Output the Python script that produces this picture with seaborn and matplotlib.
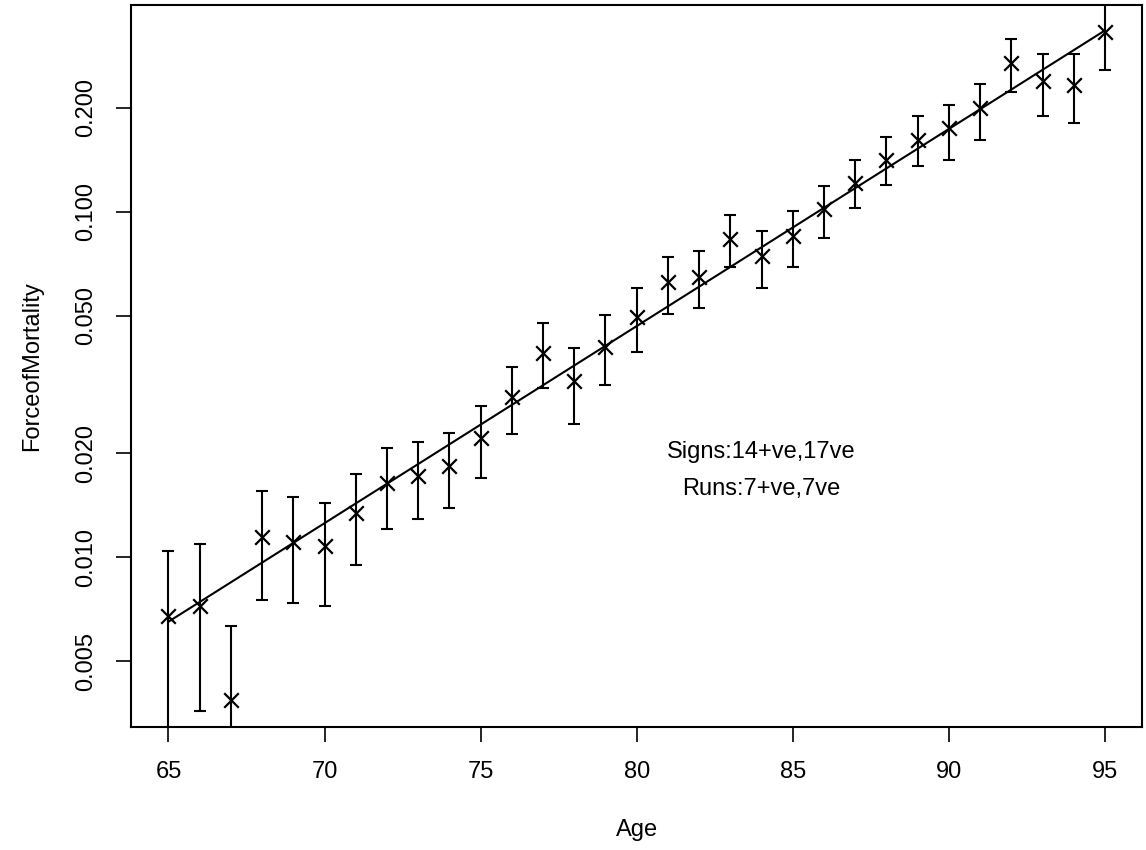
import numpy as np
import pandas as pd
import seaborn as sns
from matplotlib import pyplot as plt

ages = list(range(65, 96))
mu = [0.00676, 0.00721, 0.00385, 0.01145, 0.01103, 0.01076, 0.01340, 0.01642,
      0.01721, 0.01836, 0.02218, 0.02903, 0.0391, 0.0324, 0.0407, 0.0497,
      0.0624, 0.0647, 0.0833, 0.0742, 0.0852, 0.1020, 0.1208, 0.1408,
      0.1617, 0.1748, 0.1998, 0.270, 0.2386, 0.2335, 0.332]
lower = [0.0025, 0.00358, 0.0012, 0.0075, 0.00738, 0.00721, 0.00948, 0.01203,
         0.01288, 0.01384, 0.0169, 0.02268, 0.0308, 0.0243, 0.0315, 0.0392,
         0.0505, 0.0528, 0.0694, 0.0603, 0.0694, 0.0839, 0.1025, 0.1192,
         0.1353, 0.1408, 0.1617, 0.2218, 0.189, 0.1811, 0.258]
upper = [0.01043, 0.01091, 0.00632, 0.0155, 0.0149, 0.01437, 0.01737, 0.02074,
         0.0215, 0.0229, 0.0274, 0.03562, 0.04757, 0.0403, 0.0501, 0.0601,
         0.0739, 0.0771, 0.0976, 0.0881, 0.1007, 0.119, 0.1415, 0.1642,
         0.189, 0.2042, 0.235, 0.3166, 0.2864, 0.2864, 0.42]

# fitted (gompertz) line, straight on the log scale
fit_ages = [65, 95]
fit_mu = [0.0065, 0.335]

yticks = [0.005, 0.01, 0.02, 0.05, 0.1, 0.2]
ytick_labels = ["0.005", "0.010", "0.020", "0.050", "0.100", "0.200"]
xticks = [65, 70, 75, 80, 85, 90, 95]
notes = ["Signs:14+ve,17ve", "Runs:7+ve,7ve"]
note_pos = [(84, 0.0201), (84, 0.0157)]

df = pd.DataFrame({'Age': ages, 'mu': mu, 'lo': lower, 'hi': upper})
fit = pd.DataFrame({'Age': fit_ages, 'mu': fit_mu})

sns.set_style("white")
plt.rcParams['font.family'] = ['Liberation Sans', 'DejaVu Sans']
plt.rcParams['text.color'] = 'black'
plt.rcParams['axes.labelcolor'] = 'black'
plt.rcParams['xtick.color'] = 'black'
plt.rcParams['ytick.color'] = 'black'
fs = 17

fig = plt.figure(figsize=(11.46, 8.5), dpi=100)
ax = fig.add_axes([0.1143, 0.1447, 0.8826, 0.8494])

ax.errorbar(df['Age'], df['mu'],
            yerr=[df['mu'] - df['lo'], df['hi'] - df['mu']],
            fmt='none', ecolor='black', elinewidth=1.5, capsize=4, capthick=1.5)
sns.scatterplot(data=df, x='Age', y='mu', marker='x', s=110, color='black',
                linewidth=1.6, ax=ax, zorder=3)
sns.lineplot(data=fit, x='Age', y='mu', color='black', linewidth=1.5, ax=ax)

ax.set_yscale('log')
# R style 4% padding around the points
lmin, lmax = np.log10(min(mu)), np.log10(max(mu))
pad = 0.04 * (lmax - lmin)
ax.set_ylim(10 ** (lmin - pad), 10 ** (lmax + pad))
ax.set_xlim(65 - 0.04 * 30, 95 + 0.04 * 30)

ax.set_yticks(yticks)
ax.set_yticklabels(ytick_labels, rotation=90, va='center', fontsize=fs)
ax.minorticks_off()
ax.set_xticks(xticks)
ax.set_xticklabels([str(t) for t in xticks], fontsize=fs)
ax.tick_params(axis='both', direction='out', length=10.5, width=1.2,
               color='black', labelcolor='black', pad=14, bottom=True, left=True)

for sp in ax.spines.values():
    sp.set_color('black')
    sp.set_linewidth(1.5)

ax.set_xlabel('Age', fontsize=fs, labelpad=26, color='black')
ax.set_ylabel('ForceofMortality', fontsize=fs, labelpad=23, color='black')

for txt, (x, y) in zip(notes, note_pos):
    ax.text(x, y, txt, ha='center', va='center', fontsize=fs, color='black')

fig.savefig('out.png', dpi=100)
